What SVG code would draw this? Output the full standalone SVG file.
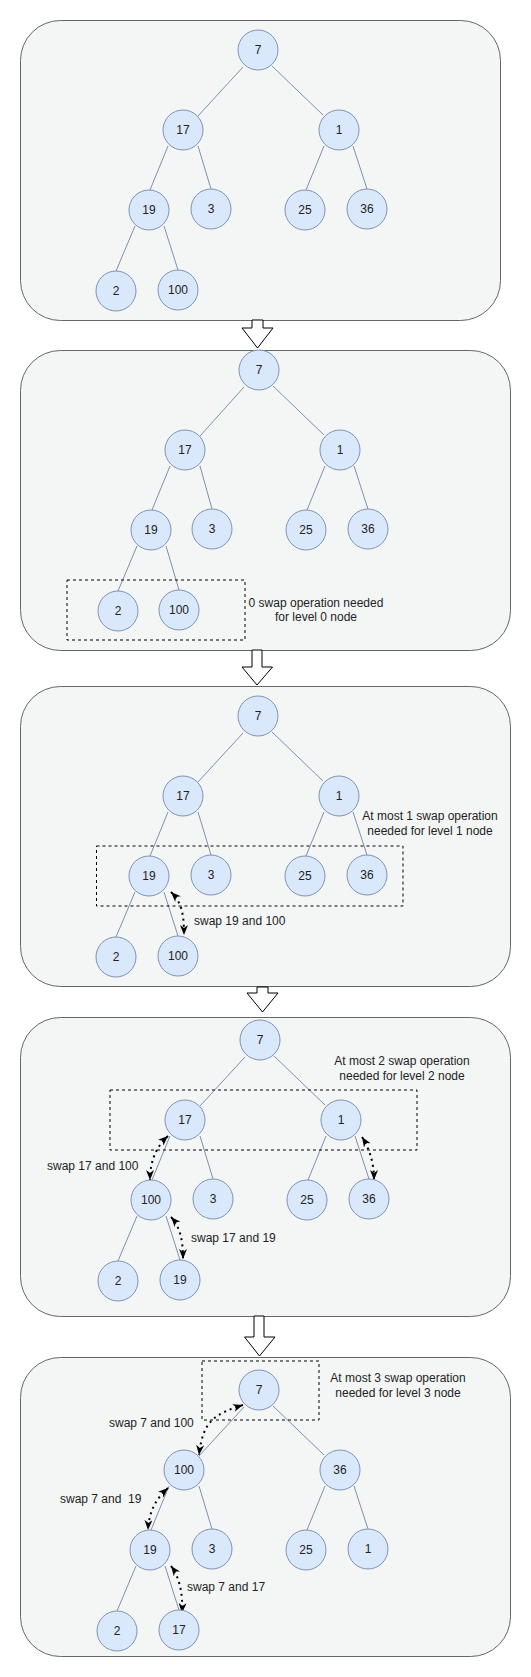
<svg xmlns="http://www.w3.org/2000/svg" width="531" height="1677" viewBox="0 0 531 1677">
<defs>
<style>
.panel{fill:#f4f6f6;stroke:#666666;stroke-width:1}
.blk{fill:#ffffff;stroke:#000000;stroke-width:1}
.node circle{fill:#dae8fc;stroke:#7f93b3;stroke-width:1}
.node text,.lbl{font-family:"Liberation Sans",Arial,sans-serif;font-size:12px;fill:#222222}
.node text{text-anchor:middle}
.mid{text-anchor:middle}
.edge{stroke:#7d8fb0;stroke-width:1;fill:none}
.sel{fill:none;stroke:#000000;stroke-width:1;stroke-dasharray:3 3}
.swap{fill:none;stroke:#000000;stroke-width:2;stroke-dasharray:2 4;marker-start:url(#ah);marker-end:url(#ah)}
</style>
<marker id="ah" viewBox="0 0 10 8" refX="10" refY="4" markerWidth="10" markerHeight="8" markerUnits="userSpaceOnUse" orient="auto-start-reverse">
<path d="M0,0 L10,4 L0,8 L3,4 Z" fill="#000000"/>
</marker>
</defs>

<g id="panels">
<rect class="panel" x="20.5" y="20.5" width="480" height="300" rx="40"/>
<rect class="panel" x="20.5" y="350.5" width="490" height="300" rx="40"/>
<rect class="panel" x="20.5" y="686.5" width="490" height="300" rx="40"/>
<rect class="panel" x="20.5" y="1017.5" width="490" height="299" rx="40"/>
<rect class="panel" x="20.5" y="1357.5" width="490" height="299" rx="40"/>
</g>

<g id="step-arrows">
<path class="blk" d="M252,320 L263,320 L263,328 L273,328 L257.5,348 L242,328 L252,328 Z"/>
<path class="blk" d="M252,650 L262,650 L262,667 L272.5,667 L257,685 L242,667 L252,667 Z"/>
<path class="blk" d="M257,987 L268,987 L268,993 L278,993 L262.5,1012 L247,993 L257,993 Z"/>
<path class="blk" d="M254,1316 L264,1316 L264,1337 L275,1337 L259.5,1356 L244.5,1337 L254,1337 Z"/>
</g>

<g id="connectors">
<path class="edge" d="M243,67 L198,116 M272,66 L323,115 M168,146 L150,190 M198,146 L211,189 M324,146 L306,190 M353,146 L367,189 M135,226 L116,271 M164,226 L178,270"/>
<path class="edge" d="M244,387 L200,436 M273,386 L324,435 M170,466 L152,510 M200,466 L212,509 M325,466 L307,510 M354,466 L368,509 M137,546 L118,591 M166,546 L179,590"/>
<path class="edge" d="M243,733 L198,782 M272,732 L323,781 M168,812 L150,856 M198,812 L211,855 M324,812 L306,856 M353,812 L367,855 M135,892 L116,937 M164,892 L178,936"/>
<path class="edge" d="M245,1057 L200,1106 M274,1056 L325,1105 M170,1136 L152,1180 M200,1136 L213,1179 M326,1136 L308,1180 M355,1136 L369,1179 M137,1216 L118,1261 M166,1216 L180,1260"/>
<path class="edge" d="M244,1407 L199,1456 M273,1406 L324,1455 M169,1486 L151,1530 M199,1486 L212,1529 M325,1486 L307,1530 M354,1486 L368,1529 M136,1566 L117,1611 M165,1566 L179,1610"/>
<path class="swap" d="M171,892 C181,902 184,912 184,935"/>
<path class="swap" d="M168,1136 C157,1146 150,1160 150,1180"/>
<path class="swap" d="M171,1217 C180,1227 183,1240 183,1259"/>
<path class="swap" d="M362,1137 C369,1148 374,1162 374,1180"/>
<path class="swap" d="M243,1405 C215,1414 203,1420 199,1455"/>
<path class="swap" d="M168,1488 C157,1498 149,1510 148,1530"/>
<path class="swap" d="M171,1566 C180,1578 183,1595 182,1613"/>
</g>

<g id="selections">
<rect class="sel" x="67" y="580" width="178" height="60"/>
<rect class="sel" x="96.5" y="846" width="306.5" height="60"/>
<rect class="sel" x="110" y="1090" width="307" height="60"/>
<rect class="sel" x="202" y="1361" width="117" height="59"/>
</g>

<g id="labels">
<text class="lbl mid" x="316" y="607">0 swap operation needed</text>
<text class="lbl mid" x="316" y="621">for level 0 node</text>
<text class="lbl mid" x="430" y="820">At most 1 swap operation</text>
<text class="lbl mid" x="430" y="835">needed for level 1 node</text>
<text class="lbl mid" x="402" y="1065">At most 2 swap operation</text>
<text class="lbl mid" x="402" y="1080">needed for level 2 node</text>
<text class="lbl mid" x="398" y="1382">At most 3 swap operation</text>
<text class="lbl mid" x="398" y="1397">needed for level 3 node</text>
<text class="lbl" x="194" y="925">swap 19 and 100</text>
<text class="lbl" x="47" y="1170">swap 17 and 100</text>
<text class="lbl" x="191" y="1242">swap 17 and 19</text>
<text class="lbl" x="109" y="1427">swap 7 and 100</text>
<text class="lbl" x="60" y="1503" xml:space="preserve">swap 7 and  19</text>
<text class="lbl" x="187" y="1591">swap 7 and 17</text>
</g>

<g id="p1-n7" class="node"><circle cx="258" cy="50" r="20"/><text x="258" y="54">7</text></g>
<g id="p1-n17" class="node"><circle cx="183" cy="130" r="20"/><text x="183" y="134">17</text></g>
<g id="p1-n1" class="node"><circle cx="339" cy="130" r="20"/><text x="339" y="134">1</text></g>
<g id="p1-n19" class="node"><circle cx="149" cy="210" r="20"/><text x="149" y="214">19</text></g>
<g id="p1-n3" class="node"><circle cx="211" cy="209" r="20"/><text x="211" y="213">3</text></g>
<g id="p1-n25" class="node"><circle cx="305" cy="210" r="20"/><text x="305" y="214">25</text></g>
<g id="p1-n36" class="node"><circle cx="367" cy="209" r="20"/><text x="367" y="213">36</text></g>
<g id="p1-n2" class="node"><circle cx="116" cy="291" r="20"/><text x="116" y="295">2</text></g>
<g id="p1-n100" class="node"><circle cx="178" cy="290" r="20"/><text x="178" y="294">100</text></g>

<g id="p2-n7" class="node"><circle cx="259" cy="370" r="20"/><text x="259" y="374">7</text></g>
<g id="p2-n17" class="node"><circle cx="185" cy="450" r="20"/><text x="185" y="454">17</text></g>
<g id="p2-n1" class="node"><circle cx="340" cy="450" r="20"/><text x="340" y="454">1</text></g>
<g id="p2-n19" class="node"><circle cx="151" cy="530" r="20"/><text x="151" y="534">19</text></g>
<g id="p2-n3" class="node"><circle cx="212" cy="529" r="20"/><text x="212" y="533">3</text></g>
<g id="p2-n25" class="node"><circle cx="306" cy="530" r="20"/><text x="306" y="534">25</text></g>
<g id="p2-n36" class="node"><circle cx="368" cy="529" r="20"/><text x="368" y="533">36</text></g>
<g id="p2-n2" class="node"><circle cx="118" cy="611" r="20"/><text x="118" y="615">2</text></g>
<g id="p2-n100" class="node"><circle cx="179" cy="610" r="20"/><text x="179" y="614">100</text></g>

<g id="p3-n7" class="node"><circle cx="258" cy="716" r="20"/><text x="258" y="720">7</text></g>
<g id="p3-n17" class="node"><circle cx="183" cy="796" r="20"/><text x="183" y="800">17</text></g>
<g id="p3-n1" class="node"><circle cx="339" cy="796" r="20"/><text x="339" y="800">1</text></g>
<g id="p3-n19" class="node"><circle cx="149" cy="876" r="20"/><text x="149" y="880">19</text></g>
<g id="p3-n3" class="node"><circle cx="211" cy="875" r="20"/><text x="211" y="879">3</text></g>
<g id="p3-n25" class="node"><circle cx="305" cy="876" r="20"/><text x="305" y="880">25</text></g>
<g id="p3-n36" class="node"><circle cx="367" cy="875" r="20"/><text x="367" y="879">36</text></g>
<g id="p3-n2" class="node"><circle cx="116" cy="957" r="20"/><text x="116" y="961">2</text></g>
<g id="p3-n100" class="node"><circle cx="178" cy="956" r="20"/><text x="178" y="960">100</text></g>

<g id="p4-n7" class="node"><circle cx="260" cy="1040" r="20"/><text x="260" y="1044">7</text></g>
<g id="p4-n17" class="node"><circle cx="185" cy="1120" r="20"/><text x="185" y="1124">17</text></g>
<g id="p4-n1" class="node"><circle cx="341" cy="1120" r="20"/><text x="341" y="1124">1</text></g>
<g id="p4-n100" class="node"><circle cx="151" cy="1200" r="20"/><text x="151" y="1204">100</text></g>
<g id="p4-n3" class="node"><circle cx="213" cy="1199" r="20"/><text x="213" y="1203">3</text></g>
<g id="p4-n25" class="node"><circle cx="307" cy="1200" r="20"/><text x="307" y="1204">25</text></g>
<g id="p4-n36" class="node"><circle cx="369" cy="1199" r="20"/><text x="369" y="1203">36</text></g>
<g id="p4-n2" class="node"><circle cx="118" cy="1281" r="20"/><text x="118" y="1285">2</text></g>
<g id="p4-n19" class="node"><circle cx="180" cy="1280" r="20"/><text x="180" y="1284">19</text></g>

<g id="p5-n7" class="node"><circle cx="259" cy="1390" r="20"/><text x="259" y="1394">7</text></g>
<g id="p5-n100" class="node"><circle cx="184" cy="1470" r="20"/><text x="184" y="1474">100</text></g>
<g id="p5-n36" class="node"><circle cx="340" cy="1470" r="20"/><text x="340" y="1474">36</text></g>
<g id="p5-n19" class="node"><circle cx="150" cy="1550" r="20"/><text x="150" y="1554">19</text></g>
<g id="p5-n3" class="node"><circle cx="212" cy="1549" r="20"/><text x="212" y="1553">3</text></g>
<g id="p5-n25" class="node"><circle cx="306" cy="1550" r="20"/><text x="306" y="1554">25</text></g>
<g id="p5-n1" class="node"><circle cx="368" cy="1549" r="20"/><text x="368" y="1553">1</text></g>
<g id="p5-n2" class="node"><circle cx="117" cy="1631" r="20"/><text x="117" y="1635">2</text></g>
<g id="p5-n17" class="node"><circle cx="179" cy="1630" r="20"/><text x="179" y="1634">17</text></g>
</svg>
